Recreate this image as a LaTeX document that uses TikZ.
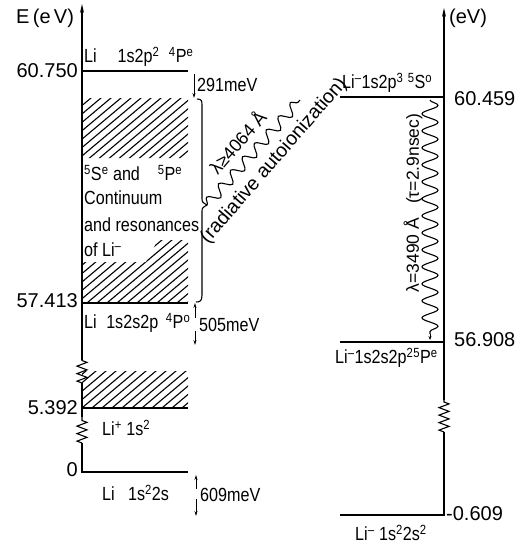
\documentclass[tikz,border=0pt]{standalone}
\usepackage{fontspec}
\setmainfont{Liberation Sans}[FakeStretch=0.85]
\newfontfamily\numfont{Liberation Sans}
\usetikzlibrary{decorations.pathmorphing,arrows.meta}
\newcommand\sps[1]{\textsuperscript{#1}}
\begin{document}
\begin{tikzpicture}[x=1pt,y=-1pt,
  level/.style={line width=1.2pt},
  axisline/.style={line width=1.3pt},
  hatchline/.style={line width=1.1pt},
  zig/.style={line width=1.1pt, decorate, decoration={zigzag, amplitude=5pt, segment length=7.5pt}},
  lbl/.style={inner sep=0pt, font=\fontsize{19}{21}\selectfont},
  num/.style={inner sep=0pt, font=\numfont\fontsize{20}{22}\selectfont},
  rlbl/.style={inner sep=0pt, font=\numfont\fontsize{19.5}{22}\selectfont},
  llbl/.style={inner sep=0pt, font=\numfont\fontsize{18}{20}\selectfont},
  vlbl/.style={inner sep=0pt, font=\numfont\fontsize{17.5}{20}\selectfont},
  gaparrow/.style={line width=0.8pt, -{Stealth[length=5pt,width=3pt]}},
  swave/.style={line width=1.1pt, decorate, decoration={snake, amplitude=5.5pt, segment length=18pt}},
  vwave/.style={line width=1.1pt, decorate, decoration={snake, amplitude=8pt, segment length=17pt}},
  tip/.style={-{Stealth[length=9pt,width=4pt]}}
]
\useasboundingbox (0,0) rectangle (520,544);

% ---------- left axis ----------
\coordinate (L0) at (82,473);
\coordinate (Lz1a) at (82,443);
\coordinate (Lz1b) at (82,417);
\coordinate (Lz2a) at (82,383);
\coordinate (Lz2b) at (82,360);
\coordinate (Ltop) at (82,4);
\draw[axisline] (L0) -- (Lz1a);
\draw[zig] (Lz1a) -- (Lz1b);
\draw[axisline] (Lz1b) -- (Lz2a);
\draw[zig] (Lz2a) -- (Lz2b);
\draw[axisline, tip] (Lz2b) -- (Ltop);

% ---------- right axis ----------
\coordinate (R0) at (444,516);
\coordinate (Rza) at (444,432);
\coordinate (Rzb) at (444,400);
\coordinate (Rtop) at (444,8);
\draw[axisline] (R0) -- (Rza);
\draw[zig] (Rza) -- (Rzb);
\draw[axisline, tip] (Rzb) -- (Rtop);

% ---------- hatching ----------
\begin{scope}
\clip (82,98) rectangle (188,158)
      (82,262) -- (146,262) -- (158,240) -- (188,240) -- (188,303) -- (82,303) -- cycle
      (82,371) rectangle (188,408);
\foreach \x in {-660,-650,...,200}
  \draw[hatchline] (\x,544) -- ++(650,-546);
\end{scope}

% ---------- left levels ----------
\coordinate (a1) at (82,71);  \coordinate (b1) at (188,71);
\coordinate (a2) at (82,303); \coordinate (b2) at (188,303);
\coordinate (a3) at (82,408); \coordinate (b3) at (188,408);
\coordinate (a4) at (82,472); \coordinate (b4) at (188,472);
\draw[level] (a1) -- (b1);
\draw[level] (a2) -- (b2);
\draw[level] (a3) -- (b3);
\draw[level] (a4) -- (b4);

% ---------- right levels ----------
\coordinate (c1) at (340,97);  \coordinate (d1) at (444,97);
\coordinate (c2) at (340,342); \coordinate (d2) at (444,342);
\coordinate (c3) at (340,515); \coordinate (d3) at (444,515);
\draw[level] (c1) -- (d1);
\draw[level] (c2) -- (d2);
\draw[level] (c3) -- (d3);

% ---------- energy gap arrows ----------
\coordinate (g1a) at (194,74);  \coordinate (g1b) at (194,98);
\draw[gaparrow] (g1a) -- (g1b);
\coordinate (g2a) at (195,318); \coordinate (g2b) at (195,303);
\coordinate (g2c) at (195,331); \coordinate (g2d) at (195,345);
\draw[gaparrow] (g2a) -- (g2b);
\draw[gaparrow] (g2c) -- (g2d);
\coordinate (g3a) at (196,489); \coordinate (g3b) at (196,475);
\coordinate (g3c) at (196,499); \coordinate (g3d) at (196,516);
\draw[gaparrow] (g3a) -- (g3b);
\draw[gaparrow] (g3c) -- (g3d);

% ---------- brace ----------
\coordinate (brtip) at (207,205);
\draw[line width=1.1pt] (197,99) .. controls (202,99) and (202,101) .. (202,106)
  -- (202,198) .. controls (202,202) .. (brtip) .. controls (202,208) .. (202,212)
  -- (202,295) .. controls (202,301) and (200,302) .. (196,302);

% ---------- waves ----------
\coordinate (sw2) at (300,100);
\draw[swave] (brtip) -- (sw2);
\coordinate (vw1) at (430,100);
\coordinate (vw2) at (430,334);
\coordinate (vw3) at (430,340);
\draw[vwave] (vw1) -- (vw2);
\draw[line width=0.8pt, -{Stealth[length=4pt,width=3pt]}] (vw2) -- (vw3);

% ---------- left labels ----------
\node[num, anchor=west] (eaxis) at (16,18) {E\,(e\,V)};
\node[lbl, anchor=west] (t1) at (84,57) {Li\hspace{1.1em}1s2p\sps{2}\hspace{0.5em}\sps{4}P\sps{e}};
\node[num, anchor=east] (n1) at (78,71) {60.750};
\node[lbl, anchor=west] (m1) at (197,85) {291meV};
\node[lbl, anchor=west] (c1t) at (84,173) {\sps{5}S\sps{e} and \hspace{0.7em}\sps{5}P\sps{e}};
\node[lbl, anchor=west] (c2t) at (84,198) {Continuum};
\node[lbl, anchor=west] (c3t) at (84,225) {and resonances};
\node[lbl, anchor=west] (c4t) at (84,250) {of Li\sps{--}};
\node[num, anchor=east] (n2) at (78,301) {57.413};
\node[lbl, anchor=west] (t2) at (84,323) {Li\hspace{0.5em}1s2s2p\hspace{0.4em}\sps{4}P\sps{o}};
\node[lbl, anchor=west] (m2) at (199,325) {505meV};
\node[num, anchor=east] (n3) at (78,408) {5.392};
\node[lbl, anchor=west] (t3) at (102,428) {Li\sps{+} 1s\sps{2}};
\node[num, anchor=east] (n4) at (78,470) {0};
\node[lbl, anchor=west] (t4) at (102,493) {Li\hspace{0.7em}1s\sps{2}2s};
\node[lbl, anchor=west] (m3) at (200,495) {609meV};

% ---------- slanted labels ----------
\node[llbl, rotate=49] (lam1) at (237,142) {λ≥4064 Å};
\node[rlbl, rotate=49] (rad) at (274,161) {(radiative autoionization)};

% ---------- right labels ----------
\node[num, anchor=west] (eaxis2) at (449,18) {(eV)};
\node[lbl, anchor=west] (t5) at (342,83) {Li\sps{--}1s2p\sps{3} \sps{5}S\sps{o}};
\node[num, anchor=west] (n5) at (454,99) {60.459};
\node[vlbl, rotate=90] (lam2) at (413,203) {λ=3490 Å\hspace{0.8em}(τ=2.9nsec)};
\node[num, anchor=west] (n6) at (454,340) {56.908};
\node[lbl, anchor=west] (t6) at (335,358) {Li\sps{--}1s2s2p\sps{2}\sps{5}P\sps{e}};
\node[num, anchor=west] (n7) at (446,514) {-0.609};
\node[lbl, anchor=west] (t7) at (355,533) {Li\sps{--} 1s\sps{2}2s\sps{2}};
\end{tikzpicture}
\end{document}
